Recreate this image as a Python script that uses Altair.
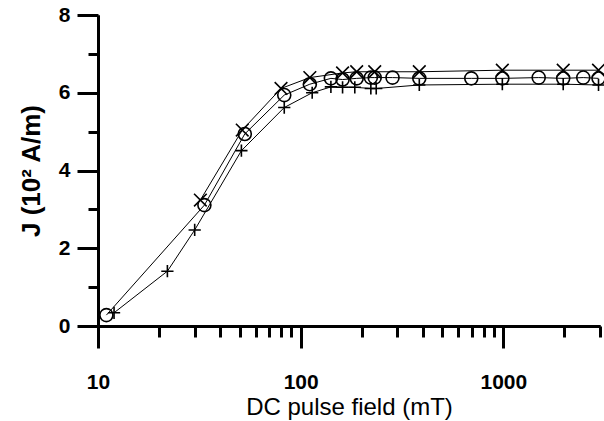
import altair as alt
import pandas as pd

# ---- data ----
circle_x = [11, 33.5, 53, 83, 111, 141, 161, 189, 222, 232, 284, 385, 695, 989, 1495, 1975, 2480, 2950]
circle_y = [0.28, 3.11, 4.94, 5.94, 6.22, 6.37, 6.34, 6.37, 6.39, 6.39, 6.39, 6.37, 6.37, 6.37, 6.39, 6.37, 6.39, 6.37]
cross_x = [32, 51.5, 80, 111, 161, 189, 232, 385, 989, 1975, 2950]
cross_y = [3.24, 5.04, 6.11, 6.39, 6.51, 6.54, 6.54, 6.54, 6.58, 6.58, 6.58]
plus_x = [12, 22, 30, 51, 83, 114, 141, 161, 185, 222, 236, 385, 989, 1975, 2950]
plus_y = [0.34, 1.41, 2.47, 4.51, 5.62, 6.0, 6.15, 6.14, 6.14, 6.11, 6.11, 6.2, 6.22, 6.22, 6.2]

x_major = [10, 100, 1000]
x_minor = [20, 30, 40, 50, 60, 70, 80, 90, 200, 300, 400, 500, 600, 700, 800, 900, 2000, 3000]
y_major = [0, 2, 4, 6, 8]
y_minor = [1, 3, 5, 7]

rows = []
for name, xs, ys in [("circle", circle_x, circle_y), ("cross", cross_x, cross_y), ("plus", plus_x, plus_y)]:
    for i, (a, b) in enumerate(zip(xs, ys)):
        rows.append({"series": name, "field": a, "J": b, "order": i})
df = pd.DataFrame(rows)

FONT = "Liberation Sans"
x_scale = alt.Scale(type="log", domain=[10, 3000], nice=False, zero=False)
y_scale = alt.Scale(domain=[0, 8], nice=False, zero=True)

base = alt.Chart(df)

lines = base.mark_line(color="black", strokeWidth=1).encode(
    x=alt.X(
        "field:Q",
        scale=x_scale,
        axis=alt.Axis(
            orient="bottom",
            title="DC pulse field (mT)",
            values=x_major,
            format="d",
            tickSize=22,
            labelPadding=23,
            titlePadding=3,
            labelOverlap=False,
            labelFlush=False,
            titleFontSize=24,
            titleFontWeight="normal",
            grid=False,
        ),
    ),
    y=alt.Y(
        "J:Q",
        scale=y_scale,
        axis=alt.Axis(
            orient="left",
            title="J (10² A/m)",
            values=y_major,
            tickSize=21,
            labelPadding=7,
            titlePadding=14,
            labelOverlap=False,
            titleFontSize=26,
            titleFontWeight="bold",
            grid=False,
        ),
    ),
    detail="series:N",
    order="order:Q",
)

points = base.mark_point(filled=False, color="black", strokeWidth=1.6, opacity=1).encode(
    x=alt.X(
        "field:Q",
        scale=x_scale,
        axis=alt.Axis(orient="bottom", title=None, values=x_minor, tickSize=11, labels=False, grid=False),
    ),
    y=alt.Y(
        "J:Q",
        scale=y_scale,
        axis=alt.Axis(orient="left", title=None, values=y_minor, tickSize=10, labels=False, grid=False),
    ),
    shape=alt.Shape(
        "series:N",
        scale=alt.Scale(
            domain=["circle", "cross", "plus"],
            range=["circle", "M-1,-1L1,1M-1,1L1,-1", "M-1,0L1,0M0,-1L0,1"],
        ),
        legend=None,
    ),
    size=alt.Size(
        "series:N",
        scale=alt.Scale(domain=["circle", "cross", "plus"], range=[170, 150, 190]),
        legend=None,
    ),
)

chart = (
    alt.layer(lines, points)
    .resolve_axis(x="independent", y="independent")
    .properties(
        width=502,
        height=311,
        autosize=alt.AutoSizeParams(type="none"),
        padding={"left": 98, "top": 15, "right": 4, "bottom": 95},
        background="white",
    )
    .configure_view(stroke=None)
    .configure_axis(
        domainColor="black",
        domainWidth=3,
        tickColor="black",
        tickWidth=3,
        labelFont=FONT,
        labelFontSize=21,
        labelFontWeight="bold",
        labelColor="black",
        titleFont=FONT,
        titleColor="black",
    )
)

chart.save("out.html", embed_options={"renderer": "svg", "actions": False})
